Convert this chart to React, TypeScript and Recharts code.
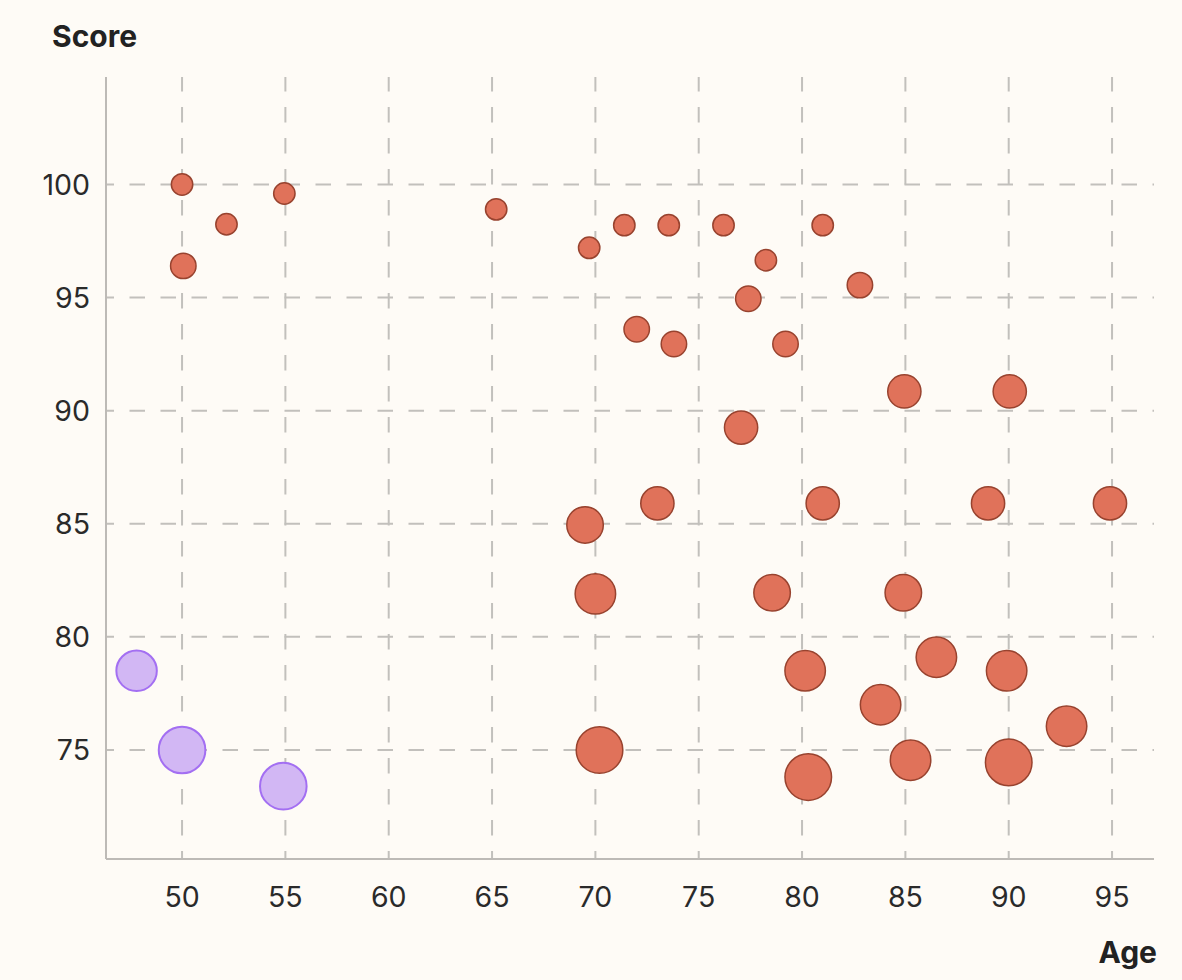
import React from 'react';
import { ScatterChart, Scatter, XAxis, YAxis, ZAxis, ReferenceLine } from 'recharts';

// Orange group: age, score, weight
const orangeAge = [50, 52.15, 54.95, 50.06, 65.2, 69.7, 71.4, 73.55, 76.2, 81.0, 78.25, 82.8, 77.4, 72.0, 73.8, 79.2, 84.95, 90.05, 77.05, 73.0, 81.0, 89.0, 94.9, 69.5, 70.0, 78.55, 84.9, 80.15, 86.5, 89.9, 83.8, 92.8, 70.2, 80.3, 85.25, 90.0];
const orangeScore = [100, 98.24, 99.6, 96.4, 98.9, 97.2, 98.2, 98.2, 98.2, 98.2, 96.65, 95.55, 94.95, 93.6, 92.95, 92.95, 90.85, 90.85, 89.25, 85.9, 85.9, 85.9, 85.9, 84.95, 81.9, 81.95, 81.95, 78.5, 79.1, 78.5, 77.0, 76.05, 75.0, 73.8, 74.55, 74.45];
const orangeWeight = [12, 12, 12, 17, 12, 12, 12, 12, 12, 12, 12, 17, 17, 17, 17, 17, 29, 29, 29, 29, 29, 29, 29, 35, 43, 35, 35, 43, 43, 43, 43, 43, 57, 57, 43, 57];

// Purple group
const purpleAge = [47.8, 50.0, 54.9];
const purpleScore = [78.5, 75.0, 73.4];
const purpleWeight = [43, 57, 57];

const xTicks = [50, 55, 60, 65, 70, 75, 80, 85, 90, 95];
const yTicks = [75, 80, 85, 90, 95, 100];

const orangeData = orangeAge.map((a, i) => ({ age: a, score: orangeScore[i], z: orangeWeight[i] }));
const purpleData = purpleAge.map((a, i) => ({ age: a, score: purpleScore[i], z: purpleWeight[i] }));

const FONT = 'Inter, "Noto Sans", sans-serif';
const GRID = { stroke: '#C2C0BC', strokeWidth: 2, strokeDasharray: '15.5 15.5', strokeDashoffset: 7.5 };

const ScoreLabel = (props: any) => {
  const { viewBox } = props;
  return (
    <text x={viewBox.x + 44} y={viewBox.y - 30} fontFamily={FONT} fontWeight={700} fontSize={30} fill="#222">
      Score
    </text>
  );
};

const AgeLabel = (props: any) => {
  const { viewBox } = props;
  return (
    <text x={viewBox.x + viewBox.width + 3} y={viewBox.y + 104} textAnchor="end" fontFamily={FONT} fontWeight={700} fontSize={30} fill="#222">
      Age
    </text>
  );
};

export default function App() {
  return (
    <div style={{ width: 1166, height: 964, background: '#FEFBF6' }}>
      <style>{`body{background:#FEFBF6;}`}</style>
      <ScatterChart width={1166} height={964} margin={{ top: 69, right: 20, left: 0, bottom: 0 }}>
        <XAxis
          type="number"
          dataKey="age"
          domain={[46.32, 97.03]}
          ticks={xTicks}
          allowDataOverflow
          height={113}
          tickLine={false}
          tickSize={0}
          tickMargin={28}
          axisLine={{ stroke: '#BDBAB6', strokeWidth: 2 }}
          tick={{ fill: '#2A2A2A', fontSize: 28.5, fontFamily: FONT }}
          label={<AgeLabel />}
        />
        <YAxis
          type="number"
          dataKey="score"
          domain={[70.18, 104.75]}
          ticks={yTicks}
          allowDataOverflow
          width={98}
          tickLine={false}
          tickSize={0}
          tickMargin={16}
          axisLine={{ stroke: '#BDBAB6', strokeWidth: 2 }}
          tick={{ fill: '#2A2A2A', fontSize: 28.5, fontFamily: FONT }}
          label={<ScoreLabel />}
        />
        <ZAxis type="number" dataKey="z" domain={[0, 57]} range={[0, 1705]} />
        {yTicks.map((t) => (
          <ReferenceLine key={'y' + t} y={t} {...GRID} />
        ))}
        {xTicks.map((t) => (
          <ReferenceLine key={'x' + t} x={t} {...GRID} />
        ))}
        <Scatter data={purpleData} fill="#D2B7F4" stroke="#A36FF2" strokeWidth={2} isAnimationActive={false} />
        <Scatter data={orangeData} fill="#E0725A" stroke="#98432F" strokeWidth={1.5} isAnimationActive={false} />
      </ScatterChart>
    </div>
  );
}
